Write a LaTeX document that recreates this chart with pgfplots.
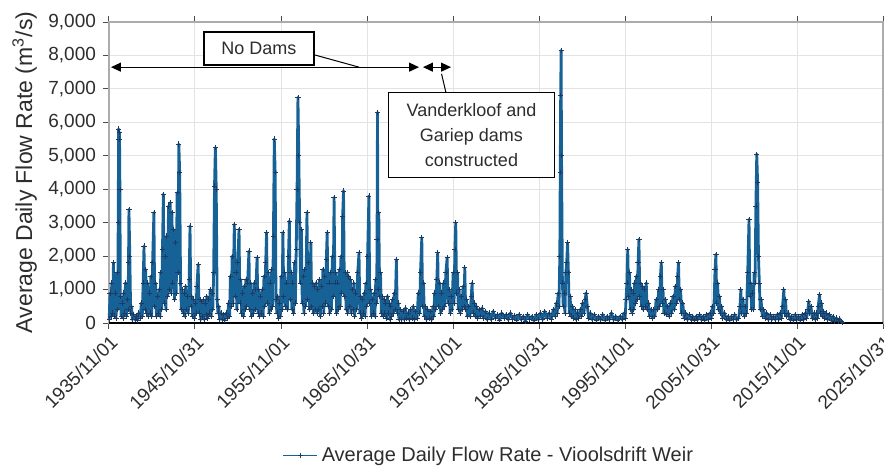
\documentclass[border=0pt]{standalone}
\usepackage{fontspec}
\setmainfont{Liberation Sans}
\usepackage{pgfplots}
\pgfplotsset{compat=1.18}
\usetikzlibrary{arrows.meta}
\definecolor{flow}{RGB}{22,98,150}
\definecolor{flowmark}{RGB}{28,58,98}
\definecolor{txt}{RGB}{45,45,45}
\begin{document}
\begin{tikzpicture}[font=\fontsize{9.5}{11}\selectfont]
\begin{axis}[
  name=ax,
  width=387pt, height=150.5pt, scale only axis,
  xmin=1935.83, xmax=2025.83, ymin=0, ymax=9000,
  xtick={1935.83,1945.83,1955.83,1965.83,1975.83,1985.83,1995.83,2005.83,2015.83,2025.83},
  xticklabels={1935/11/01,1945/10/31,1955/11/01,1965/10/31,1975/11/01,1985/10/31,1995/11/01,2005/10/31,2015/11/01,2025/10/31},
  xticklabel style={rotate=45, anchor=north east, inner sep=1.5pt, text=txt},
  ytick={0,1000,2000,3000,4000,5000,6000,7000,8000,9000},
  yticklabel style={text=txt},
  /pgf/number format/1000 sep={,},
  /pgf/number format/assume math mode=true,
  scaled y ticks=false,
  grid=major,
  major grid style={gray!22, line width=0.5pt},
  tick align=outside, major tick length=3pt,
  tick style={gray!60!black, line width=0.5pt},
  axis line style={gray!65, line width=0.7pt},
  ylabel={Average Daily Flow Rate (m\textsuperscript{3}/s)},
  ylabel style={at={(axis description cs:-0.109,0.5)}, anchor=center, font=\fontsize{11.5}{12}\selectfont, text=txt},
  legend style={at={(axis description cs:0.492,-0.44)}, anchor=center, draw=none, fill=none, font=\fontsize{10}{12}\selectfont, text=txt},
  legend cell align=left,
  legend image post style={line width=0.5pt},
  clip=false,
]
\addplot[color=flow, line width=1.4pt, line join=round, mark=+, mark size=1.3pt, mark options={color=flowmark, line width=0.35pt}] coordinates {
(1935.85,100) (1935.95,900) (1936.05,200) (1936.15,1200) (1936.25,300) (1936.35,1800) (1936.45,200) (1936.55,900)
(1936.65,150) (1936.75,1500) (1936.85,400) (1936.9,3000) (1936.95,5800) (1937.0,5500) (1937.05,5700) (1937.1,4000) (1937.15,800)
(1937.25,200) (1937.35,600) (1937.45,150) (1937.55,900) (1937.65,300) (1937.75,1200) (1937.85,200) (1937.95,700)
(1938.05,400) (1938.1,1800) (1938.15,3400) (1938.25,2000) (1938.35,300) (1938.45,500) (1938.55,100) (1938.7,250) (1938.85,100)
(1939.0,200) (1939.15,80) (1939.3,300) (1939.45,150) (1939.6,600) (1939.7,200) (1939.8,1200) (1939.9,2300)
(1940.0,400) (1940.1,1600) (1940.2,300) (1940.3,1200) (1940.4,200) (1940.5,900) (1940.6,300) (1940.7,1400)
(1940.8,200) (1940.9,1800) (1941.05,3300) (1941.15,500) (1941.25,1200) (1941.35,200) (1941.45,800) (1941.55,300)
(1941.65,1000) (1941.75,200) (1941.85,1500) (1941.95,400) (1942.05,2200) (1942.15,3850) (1942.25,600) (1942.35,2000)
(1942.45,400) (1942.55,2600) (1942.65,800) (1942.75,3500) (1942.85,1000) (1942.95,3600) (1943.05,900) (1943.15,3300)
(1943.25,1200) (1943.35,2800) (1943.45,700) (1943.55,2400) (1943.65,900) (1943.75,3900) (1943.85,1500) (1943.95,5350)
(1944.05,4500) (1944.15,1200) (1944.25,400) (1944.35,1000) (1944.45,300) (1944.55,900) (1944.65,200) (1944.75,1100)
(1944.85,400) (1944.95,800) (1945.05,300) (1945.15,1300) (1945.25,2900) (1945.35,500) (1945.45,800) (1945.55,200)
(1945.65,700) (1945.75,150) (1945.85,600) (1945.95,300) (1946.05,1100) (1946.2,1750) (1946.3,300) (1946.4,700)
(1946.5,100) (1946.6,650) (1946.7,200) (1946.8,700) (1946.9,100) (1947.0,600) (1947.1,250) (1947.2,800)
(1947.3,150) (1947.4,700) (1947.5,300) (1947.6,1000) (1947.7,200) (1947.8,900) (1947.9,400) (1948.0,1500)
(1948.1,4100) (1948.2,5250) (1948.3,4000) (1948.4,700) (1948.5,300) (1948.6,500) (1948.7,100) (1948.85,300)
(1949.0,100) (1949.15,250) (1949.3,80) (1949.45,300) (1949.6,150) (1949.75,600) (1949.85,200) (1949.95,1400)
(1950.05,500) (1950.15,2000) (1950.25,600) (1950.4,2950) (1950.5,800) (1950.6,1500) (1950.7,400) (1950.8,1800)
(1950.95,2800) (1951.05,600) (1951.15,1300) (1951.25,300) (1951.35,900) (1951.45,200) (1951.55,1100) (1951.65,400)
(1951.75,1300) (1951.85,500) (1951.95,1200) (1952.1,2150) (1952.2,400) (1952.3,1200) (1952.4,200) (1952.5,900)
(1952.6,300) (1952.7,1200) (1952.8,400) (1952.9,1000) (1953.05,1950) (1953.15,300) (1953.25,1000) (1953.35,200)
(1953.45,800) (1953.55,300) (1953.65,1000) (1953.75,200) (1953.85,1400) (1953.95,500) (1954.05,1800) (1954.15,2700)
(1954.25,600) (1954.35,1500) (1954.45,300) (1954.55,1200) (1954.65,400) (1954.75,1600) (1954.85,500) (1954.95,2600)
(1955.05,5500) (1955.15,4500) (1955.25,700) (1955.35,300) (1955.45,800) (1955.55,150) (1955.65,600) (1955.75,200)
(1955.85,1400) (1955.95,400) (1956.05,2700) (1956.15,800) (1956.25,1500) (1956.35,500) (1956.5,1200) (1956.6,400)
(1956.7,2000) (1956.8,3050) (1956.9,700) (1957.0,1500) (1957.1,400) (1957.2,1200) (1957.3,300) (1957.4,1800)
(1957.5,600) (1957.6,2200) (1957.7,4000) (1957.8,6750) (1957.9,5000) (1958.0,3000) (1958.1,1200) (1958.2,2800)
(1958.3,600) (1958.4,1400) (1958.5,300) (1958.6,1600) (1958.7,500) (1958.85,3300) (1958.95,700) (1959.05,1800)
(1959.15,400) (1959.3,2400) (1959.4,500) (1959.5,1200) (1959.6,300) (1959.7,1100) (1959.8,400) (1959.9,1200)
(1960.0,300) (1960.1,1000) (1960.2,400) (1960.3,1300) (1960.4,200) (1960.5,1100) (1960.6,500) (1960.7,1600)
(1960.8,300) (1960.9,1400) (1961.0,600) (1961.1,1900) (1961.2,2700) (1961.3,500) (1961.4,1200) (1961.5,300)
(1961.6,1500) (1961.7,400) (1961.8,2000) (1961.9,800) (1962.0,3750) (1962.1,1200) (1962.2,1500) (1962.3,300)
(1962.4,1200) (1962.5,400) (1962.6,1600) (1962.7,500) (1962.8,2000) (1962.9,900) (1963.0,3200) (1963.1,3950)
(1963.2,800) (1963.3,1500) (1963.4,400) (1963.5,1500) (1963.6,300) (1963.7,1400) (1963.8,500) (1963.9,1300)
(1964.0,300) (1964.1,1000) (1964.2,400) (1964.3,1200) (1964.4,200) (1964.5,900) (1964.6,400) (1964.75,1500)
(1964.9,2100) (1965.0,300) (1965.1,800) (1965.2,150) (1965.3,700) (1965.4,300) (1965.5,900) (1965.6,200)
(1965.7,1200) (1965.8,500) (1965.9,2000) (1966.05,3800) (1966.15,600) (1966.25,1000) (1966.35,200) (1966.45,700)
(1966.55,300) (1966.65,900) (1966.75,200) (1966.85,1300) (1966.95,600) (1967.0,2500) (1967.05,6300) (1967.12,1000)
(1967.2,3300) (1967.3,800) (1967.4,1500) (1967.5,300) (1967.6,800) (1967.7,200) (1967.8,700) (1967.9,300)
(1968.0,600) (1968.1,150) (1968.2,800) (1968.3,300) (1968.4,600) (1968.5,100) (1968.6,500) (1968.7,200)
(1968.8,700) (1968.9,300) (1969.0,900) (1969.1,400) (1969.25,1900) (1969.35,300) (1969.45,600) (1969.55,100)
(1969.7,400) (1969.85,100) (1970.0,350) (1970.15,100) (1970.3,450) (1970.45,150) (1970.6,300) (1970.75,100)
(1970.9,400) (1971.05,150) (1971.2,500) (1971.35,100) (1971.5,350) (1971.65,150) (1971.8,900) (1971.95,300)
(1972.05,1500) (1972.2,2550) (1972.3,500) (1972.4,1200) (1972.5,200) (1972.6,500) (1972.75,100) (1972.9,400)
(1973.05,150) (1973.2,350) (1973.35,100) (1973.5,500) (1973.6,200) (1973.7,900) (1973.8,400) (1973.95,1300)
(1974.05,2100) (1974.15,500) (1974.3,1200) (1974.4,300) (1974.5,900) (1974.6,400) (1974.75,1200) (1974.85,500)
(1975.0,1500) (1975.15,1950) (1975.25,600) (1975.4,1000) (1975.5,300) (1975.6,800) (1975.7,400) (1975.85,1500)
(1975.95,600) (1976.05,2200) (1976.15,3000) (1976.25,900) (1976.35,1500) (1976.45,400) (1976.55,1000) (1976.65,300)
(1976.8,800) (1976.9,400) (1977.0,1100) (1977.1,500) (1977.2,1650) (1977.3,400) (1977.4,700) (1977.5,200)
(1977.65,500) (1977.8,200) (1977.95,800) (1978.05,1200) (1978.15,300) (1978.3,600) (1978.4,200) (1978.55,500)
(1978.7,150) (1978.85,400) (1979.0,200) (1979.2,450) (1979.4,150) (1979.6,350) (1979.8,100)
(1980.0,300) (1980.25,100) (1980.5,350) (1980.75,150) (1981.0,250) (1981.25,80) (1981.5,300) (1981.75,150)
(1982.0,250) (1982.25,100) (1982.5,300) (1982.75,120) (1983.0,220) (1983.25,80) (1983.5,250) (1983.75,100)
(1984.0,200) (1984.25,60) (1984.5,250) (1984.75,120) (1985.0,200) (1985.25,70) (1985.5,250) (1985.75,100)
(1986.0,300) (1986.25,100) (1986.5,350) (1986.75,150) (1987.0,300) (1987.25,120) (1987.5,400) (1987.7,200)
(1987.85,600) (1987.95,300) (1988.05,900) (1988.15,500) (1988.25,2000) (1988.3,4500) (1988.35,6800) (1988.4,8150)
(1988.45,5000) (1988.55,1200) (1988.65,500) (1988.75,900) (1988.85,300) (1988.95,1500) (1989.05,1800) (1989.15,2400)
(1989.25,1500) (1989.35,300) (1989.45,800) (1989.55,200) (1989.7,500) (1989.85,150) (1990.0,400) (1990.15,100)
(1990.3,300) (1990.45,150) (1990.6,400) (1990.75,200) (1990.9,600) (1991.05,300) (1991.2,700) (1991.3,900)
(1991.45,500) (1991.6,150) (1991.8,300) (1992.0,100) (1992.25,250) (1992.5,80) (1992.75,200) (1993.0,100)
(1993.25,250) (1993.5,80) (1993.75,200) (1994.0,100) (1994.25,300) (1994.5,100) (1994.75,200) (1995.0,80)
(1995.25,200) (1995.5,100) (1995.7,300) (1995.85,150) (1995.95,700) (1996.05,1200) (1996.15,2200) (1996.25,800)
(1996.35,1500) (1996.45,400) (1996.55,1000) (1996.65,300) (1996.75,900) (1996.85,400) (1996.95,1200) (1997.05,600)
(1997.15,1400) (1997.25,700) (1997.35,1800) (1997.45,2500) (1997.55,800) (1997.65,1200) (1997.75,500) (1997.85,1100)
(1997.95,400) (1998.05,1000) (1998.15,500) (1998.3,1200) (1998.4,400) (1998.55,600) (1998.7,200) (1998.85,400)
(1999.0,150) (1999.15,400) (1999.3,200) (1999.45,700) (1999.6,400) (1999.75,1000) (1999.85,500) (1999.95,1400)
(2000.05,1800) (2000.15,600) (2000.25,1000) (2000.35,300) (2000.5,700) (2000.65,250) (2000.8,500) (2000.95,200)
(2001.1,600) (2001.25,300) (2001.4,800) (2001.55,400) (2001.7,1100) (2001.85,600) (2001.95,1400) (2002.05,1800)
(2002.15,700) (2002.3,1000) (2002.4,300) (2002.55,600) (2002.7,150) (2002.9,300) (2003.1,100) (2003.3,250)
(2003.5,100) (2003.7,200) (2003.9,80) (2004.1,200) (2004.3,100) (2004.5,250) (2004.7,100) (2004.9,200)
(2005.1,80) (2005.3,250) (2005.5,100) (2005.7,300) (2005.85,150) (2006.0,500) (2006.15,300) (2006.3,1600)
(2006.4,2050) (2006.5,600) (2006.6,1200) (2006.7,400) (2006.8,800) (2006.9,300) (2007.05,500) (2007.2,150)
(2007.4,300) (2007.6,100) (2007.8,200) (2008.0,80) (2008.2,200) (2008.4,100) (2008.6,250) (2008.8,100)
(2009.05,150) (2009.2,500) (2009.3,1000) (2009.4,300) (2009.55,700) (2009.7,200) (2009.85,500) (2009.95,300)
(2010.1,1500) (2010.25,3100) (2010.35,800) (2010.45,1200) (2010.55,400) (2010.65,900) (2010.75,400) (2010.85,1500)
(2010.95,1200) (2011.05,3500) (2011.15,5050) (2011.25,4200) (2011.35,2000) (2011.45,1200) (2011.55,400) (2011.65,700)
(2011.8,200) (2011.95,400) (2012.1,150) (2012.3,300) (2012.5,100) (2012.7,250) (2012.9,100) (2013.1,200)
(2013.3,100) (2013.5,250) (2013.7,100) (2013.85,300) (2014.0,150) (2014.15,500) (2014.3,1000) (2014.4,300)
(2014.5,700) (2014.6,200) (2014.8,300) (2015.0,100) (2015.2,200) (2015.4,80) (2015.6,250) (2015.8,100)
(2016.0,200) (2016.2,80) (2016.4,250) (2016.6,100) (2016.8,300) (2016.95,150) (2017.1,400) (2017.2,650)
(2017.3,300) (2017.45,500) (2017.6,150) (2017.8,300) (2017.95,100) (2018.1,300) (2018.2,150) (2018.3,500)
(2018.45,850) (2018.55,300) (2018.65,600) (2018.75,200) (2018.9,350) (2019.05,150) (2019.2,300) (2019.4,100)
(2019.6,250) (2019.8,80) (2020.0,200) (2020.2,60) (2020.4,150) (2020.6,50) (2020.8,120) (2021.0,40) (2021.1,20)
};
\addlegendentry{Average Daily Flow Rate - Vioolsdrift Weir}
\draw[black, line width=0.7pt] (rel axis cs:0,0) -- (rel axis cs:1,0);
% annotations
\draw[black, line width=0.6pt, {Triangle[length=5pt,width=4.5pt]}-{Triangle[length=5pt,width=4.5pt]}] (axis cs:1936.06,7650) -- (axis cs:1971.88,7650);
\draw[black, line width=0.6pt, {Triangle[length=5pt,width=4.5pt]}-{Triangle[length=5pt,width=4.5pt]}] (axis cs:1972.34,7650) -- (axis cs:1975.6,7650);
\draw[black, line width=0.5pt] (axis cs:1959.4,8040) -- (axis cs:1964.9,7650);
\draw[black, line width=0.5pt] (axis cs:1974.5,7450) -- (axis cs:1975.0,6900);
\node[draw=black, line width=0.6pt, fill=white, minimum width=55pt, minimum height=16.5pt, inner sep=0pt, text=txt, font=\fontsize{9}{11}\selectfont] at (axis cs:1953.27,8205) {No Dams};
\node[draw=black, line width=0.6pt, fill=white, minimum width=83pt, minimum height=42.5pt, inner sep=0pt, align=center, text=txt, font=\fontsize{9}{12.5}\selectfont] at (axis cs:1977.98,5625) {Vanderkloof and\\Gariep dams\\constructed};
\end{axis}
\pgfresetboundingbox
\path ([xshift=-54.5pt,yshift=-72pt]ax.south west) rectangle ([xshift=0.5pt,yshift=11pt]ax.north east);
\end{tikzpicture}
\end{document}
